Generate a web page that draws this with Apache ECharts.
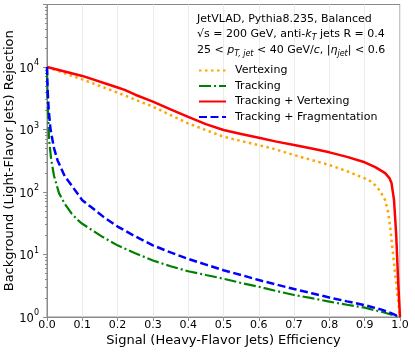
<!DOCTYPE html>
<html>
<head>
<meta charset="utf-8">
<script src="https://cdn.jsdelivr.net/npm/echarts@6/dist/echarts.min.js"></script>
<style>
  html, body { margin: 0; padding: 0; background: #fff; }
  #chart { width: 415px; height: 353px; }
</style>
</head>
<body>
<div id="chart"></div>
<script>
// Vertexing (orange dotted)
const vtxX = [0, 0.1, 0.2, 0.3, 0.4, 0.5, 0.6, 0.632, 0.7, 0.8, 0.85, 0.9, 0.915, 0.93, 0.943, 0.958, 0.967, 0.973, 0.979, 0.986, 0.992, 1.0];
const vtxY = [10000, 6330, 3880, 2320, 1250, 767, 560, 510, 390, 270, 215, 165, 150, 128, 105, 74, 46, 25, 11.8, 5, 2.4, 1];
// Tracking (green dash-dot)
const trkX = [0, 0.002, 0.006, 0.012, 0.02, 0.034, 0.05, 0.07, 0.086, 0.1, 0.156, 0.2, 0.25, 0.3, 0.35, 0.4, 0.45, 0.5, 0.55, 0.6, 0.65, 0.7, 0.75, 0.8, 0.85, 0.9, 0.95, 1.0];
const trkY = [10000, 2500, 680, 325, 180, 96, 65, 45, 36, 31, 19.3, 14, 10.5, 8, 6.5, 5.4, 4.7, 4.1, 3.5, 3.05, 2.6, 2.25, 2.0, 1.76, 1.57, 1.41, 1.2, 1];
// Tracking + Vertexing (red solid)
const tvX = [0, 0.1, 0.2, 0.22, 0.25, 0.3, 0.35, 0.4, 0.45, 0.5, 0.55, 0.6, 0.65, 0.7, 0.75, 0.8, 0.85, 0.9, 0.93, 0.958, 0.97, 0.976, 0.983, 0.989, 0.995, 1.0];
const tvY = [10000, 7200, 4700, 4300, 3600, 2790, 2100, 1590, 1220, 980, 850, 740, 640, 565, 495, 431, 365, 299, 250, 200, 167, 139, 75, 22, 3.5, 1];
// Tracking + Fragmentation (blue dashed)
const tfX = [0, 0.002, 0.005, 0.01, 0.02, 0.03, 0.05, 0.072, 0.1, 0.124, 0.16, 0.2, 0.25, 0.3, 0.35, 0.4, 0.45, 0.5, 0.55, 0.6, 0.65, 0.7, 0.75, 0.8, 0.85, 0.9, 0.95, 0.98, 1.0];
const tfY = [10000, 4000, 2000, 1000, 500, 320, 180, 122, 74, 58, 40, 28, 19.5, 14, 10.8, 8.5, 6.9, 5.6, 4.7, 3.9, 3.3, 2.8, 2.4, 2.05, 1.78, 1.55, 1.3, 1.12, 1];

const seriesNames = ['Vertexing', 'Tracking', 'Tracking + Vertexing', 'Tracking + Fragmentation'];
const headerLines = [
  'JetVLAD, Pythia8.235, Balanced',
  '√s = 200 GeV, anti-{i|k}{sub|T} jets R = 0.4',
  '25 < {i|p}{sub|T, jet} < 40 GeV/{i|c}, |{i|η}{sub|jet}| < 0.6'
];

// minor ticks of the log axis (2..9 x each decade)
const minorTicks = [];
[1, 10, 100, 1000, 10000].forEach(d => { for (let k = 2; k <= 9; k++) minorTicks.push(k * d); });

const pairs = (xs, ys) => xs.map((x, i) => [x, ys[i]]);
const FONT = 'DejaVu Sans';
const AXIS = '#8a8a8a';

const chart = echarts.init(document.getElementById('chart'));

const option = {
  backgroundColor: '#fff',
  animation: false,
  textStyle: { fontFamily: FONT },
  title: {
    text: headerLines.join('\n'),
    left: 192,
    top: 6,
    textStyle: {
      fontFamily: FONT, fontSize: 11, fontWeight: 'normal', color: '#000', lineHeight: 15.5,
      rich: {
        i: { fontFamily: FONT, fontSize: 11, fontStyle: 'italic', color: '#000', lineHeight: 15.5 },
        sub: { fontFamily: FONT, fontSize: 8, fontStyle: 'italic', color: '#000', verticalAlign: 'bottom', lineHeight: 15.5, padding: [4, 0, 0, 0] }
      }
    }
  },
  legend: {
    orient: 'vertical',
    left: 193,
    top: 60,
    itemWidth: 27,
    itemHeight: 12,
    itemGap: 4.5,
    data: seriesNames,
    itemStyle: { opacity: 0 },
    textStyle: { fontFamily: FONT, fontSize: 11, color: '#000', padding: [0, 0, 0, 4] }
  },
  grid: {
    left: 47, right: 15, top: 4.5, bottom: 36,
    containLabel: false, outerBoundsMode: 'none',
    show: true, borderColor: AXIS, borderWidth: 1
  },
  xAxis: {
    type: 'value',
    min: 0, max: 1, interval: 0.1,
    name: 'Signal (Heavy-Flavor Jets) Efficiency',
    nameLocation: 'middle',
    nameGap: 17,
    nameMoveOverlap: false,
    nameTextStyle: { fontFamily: FONT, fontSize: 13, color: '#000' },
    axisLine: { lineStyle: { color: AXIS } },
    axisTick: { length: 4, lineStyle: { color: AXIS } },
    axisLabel: { fontFamily: FONT, fontSize: 11, color: '#000', margin: 3, formatter: v => v.toFixed(1) },
    splitLine: { show: true, lineStyle: { color: '#ececec', width: 1 } }
  },
  yAxis: [
    {
      type: 'log',
      logBase: 10,
      min: 1, max: 100000,
      name: 'Background (Light-Flavor Jets) Rejection',
      nameLocation: 'middle',
      nameGap: 31,
      nameMoveOverlap: false,
      nameTextStyle: { fontFamily: FONT, fontSize: 13, color: '#000' },
      axisLine: { show: true, lineStyle: { color: AXIS } },
      axisTick: { length: 4, lineStyle: { color: AXIS } },
      axisLabel: {
        margin: 8,
        formatter: v => v >= 100000 ? '' : '{b|10}{s|' + Math.round(Math.log10(v)) + '}',
        rich: {
          b: { fontFamily: FONT, fontSize: 11.5, color: '#000', lineHeight: 16, verticalAlign: 'bottom' },
          s: { fontFamily: FONT, fontSize: 8, color: '#000', lineHeight: 16, verticalAlign: 'top' }
        }
      },
      splitLine: { show: false }
    },
    {
      type: 'log',
      logBase: 10,
      min: 1, max: 100000,
      position: 'left',
      axisLine: { show: false },
      axisTick: { show: true, length: 2, customValues: minorTicks, lineStyle: { color: AXIS } },
      axisLabel: { show: false },
      splitLine: { show: false }
    }
  ],
  series: [
    {
      name: seriesNames[0], type: 'line', data: pairs(vtxX, vtxY), symbol: 'none', z: 2,
      itemStyle: { color: '#ffa500' },
      lineStyle: { color: '#ffa500', width: 2.5, type: [2.5, 3.5] }
    },
    {
      name: seriesNames[1], type: 'line', data: pairs(trkX, trkY), symbol: 'none', z: 2,
      itemStyle: { color: '#008000' },
      lineStyle: { color: '#008000', width: 2.2, type: [12, 3, 2, 3] }
    },
    {
      name: seriesNames[2], type: 'line', data: pairs(tvX, tvY), symbol: 'none', z: 3,
      itemStyle: { color: '#ff0000' },
      lineStyle: { color: '#ff0000', width: 2.5 }
    },
    {
      name: seriesNames[3], type: 'line', data: pairs(tfX, tfY), symbol: 'none', z: 3,
      itemStyle: { color: '#0000ff' },
      lineStyle: { color: '#0000ff', width: 2.5, type: [8, 3.5] }
    }
  ]
};

chart.setOption(option);
</script>
</body>
</html>
